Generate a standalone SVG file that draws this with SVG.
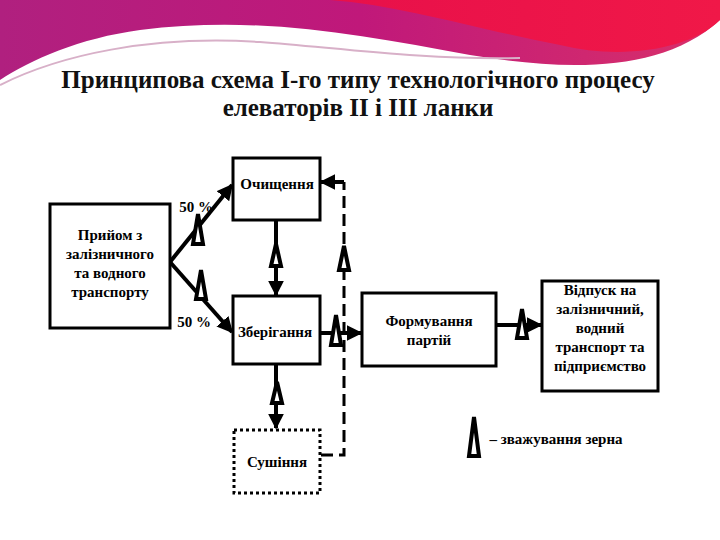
<svg xmlns="http://www.w3.org/2000/svg" width="720" height="540" viewBox="0 0 720 540">
<defs>
<linearGradient id="g1" x1="0" y1="0" x2="1" y2="0"><stop offset="0" stop-color="#b0207f"/><stop offset="0.5" stop-color="#c0187a"/><stop offset="1" stop-color="#d8306a"/></linearGradient>
<linearGradient id="g2" x1="0" y1="0" x2="1" y2="0"><stop offset="0" stop-color="#e8104a"/><stop offset="1" stop-color="#f01848"/></linearGradient>
<marker id="ah" viewBox="0 0 10 10" refX="9" refY="5" markerWidth="4" markerHeight="4" orient="auto"><path d="M0,0L10,5L0,10z" fill="#000"/></marker>
<style>
.b{fill:#fff;stroke:#000;stroke-width:3}
.tb{font-family:"Liberation Serif",serif;font-size:15px;font-weight:bold;fill:#000;text-anchor:middle}
.c{stroke:#000;stroke-width:4;fill:none}
.s{fill:#fff;stroke:#000;stroke-width:4;stroke-linejoin:miter}
</style>
</defs>
<rect width="720" height="540" fill="#fff"/>
<path d="M0,0H720V20C660,75 560,70 470,55C360,35 260,15 140,30C80,38 30,60 0,80z" fill="url(#g1)"/>
<path d="M330,0H720V20C690,50 620,60 560,45C480,30 400,5 330,0z" fill="url(#g2)"/>
<path d="M0,85C60,55 150,35 260,42C340,48 420,60 520,58" fill="none" stroke="#d8b0c8" stroke-width="2"/>
<g font-family="Liberation Serif,serif" font-weight="bold" font-size="25" text-anchor="middle" fill="#111">
<text x="358" y="88">Принципова схема І-го типу технологічного процесу</text>
<text x="358" y="116">елеваторів ІІ і ІІІ ланки</text>
</g>
<rect x="470" y="414" width="168" height="56" fill="#fff"/>
<g id="connectors">
<line class="c" x1="170" y1="262" x2="232" y2="185" marker-end="url(#ah)"/>
<line class="c" x1="170" y1="262" x2="232" y2="332" marker-end="url(#ah)"/>
<line class="c" x1="276" y1="220" x2="276" y2="295" marker-end="url(#ah)"/>
<line class="c" x1="276" y1="364" x2="276" y2="428" marker-end="url(#ah)"/>
<line class="c" x1="320" y1="333" x2="361" y2="333" marker-end="url(#ah)"/>
<line class="c" x1="496" y1="325" x2="541" y2="325" marker-end="url(#ah)"/>
<path d="M321,455H344V182" fill="none" stroke="#000" stroke-width="3" stroke-dasharray="12,6"/>
<line class="c" x1="344" y1="182" x2="321" y2="182" marker-end="url(#ah)"/>
</g>
<g id="scales">
<polygon class="s" points="198,214 193,244 203,244"/>
<polygon class="s" points="201,270 196,299 206,299"/>
<polygon class="s" points="276,244 271,266 281,266"/>
<polygon class="s" points="344,246 339,270 349,270"/>
<polygon class="s" points="336,315 331,345 341,345"/>
<polygon class="s" points="277,382 272,403 282,403"/>
<polygon class="s" points="522,309 517,338 527,338"/>
<polygon class="s" points="474,417 469,456 479,456"/>
</g>
<g id="priyom"><rect class="b" x="50" y="204" width="120" height="124"/>
<text class="tb" x="110" y="240">Прийом з</text><text class="tb" x="110" y="259">залізничного</text><text class="tb" x="110" y="278">та водного</text><text class="tb" x="110" y="297">транспорту</text></g>
<g id="ochyshchennya"><rect class="b" x="233" y="158" width="87" height="62"/><text class="tb" x="277" y="189">Очищення</text></g>
<g id="zberihannya"><rect class="b" x="233" y="296" width="87" height="68"/><text class="tb" x="275" y="337">Зберігання</text></g>
<g id="formuvannya"><rect class="b" x="362" y="293" width="134" height="73"/><text class="tb" x="429" y="326">Формування</text><text class="tb" x="429" y="345">партій</text></g>
<g id="vidpusk"><rect class="b" x="542" y="281" width="116" height="110"/>
<text class="tb" x="600" y="295">Відпуск на</text><text class="tb" x="600" y="314">залізничний,</text><text class="tb" x="600" y="333">водний</text><text class="tb" x="600" y="352">транспорт та</text><text class="tb" x="600" y="371">підприємство</text></g>
<g id="sushinnya"><rect x="234" y="430" width="86" height="63" fill="#fff" stroke="#000" stroke-width="3" stroke-dasharray="3,3"/><text class="tb" x="277" y="467">Сушіння</text></g>
<text class="tb" x="196" y="212">50 %</text>
<text class="tb" x="194" y="327">50 %</text>
<text class="tb" x="556" y="444">– зважування зерна</text>
</svg>
